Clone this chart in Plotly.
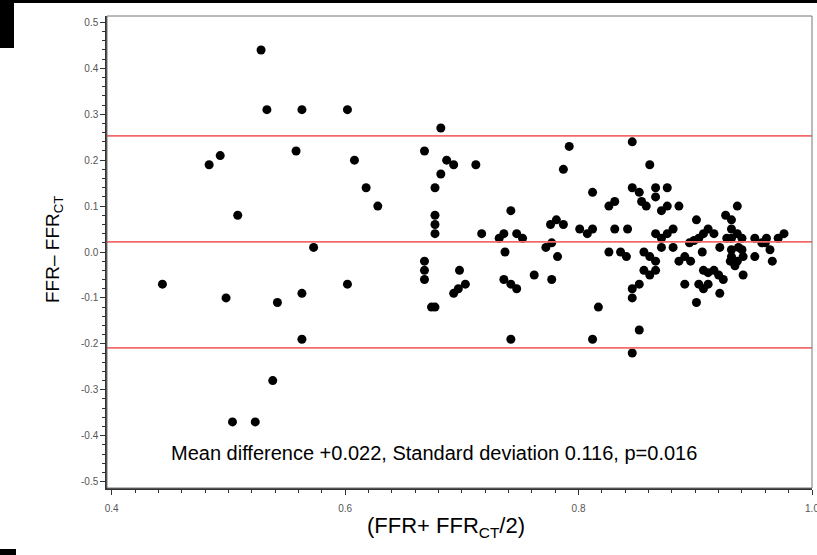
import plotly.graph_objects as go

# Bland-Altman data: mean of FFR and FFR_CT vs. their difference
mean_ffr = [
    0.4435, 0.4835, 0.493, 0.498, 0.5035, 0.508, 0.523, 0.528, 0.533, 0.538,
    0.542, 0.558, 0.563, 0.563, 0.563, 0.573, 0.602, 0.602, 0.608, 0.618,
    0.628, 0.668, 0.668, 0.668, 0.668, 0.677, 0.677, 0.677, 0.677, 0.677,
    0.674, 0.682, 0.682, 0.687, 0.693, 0.693, 0.697, 0.698, 0.703, 0.712,
    0.717, 0.732, 0.736, 0.737, 0.736, 0.742, 0.742, 0.742, 0.747, 0.747,
    0.752, 0.762, 0.772, 0.776, 0.777, 0.777, 0.781, 0.782, 0.787, 0.787,
    0.792, 0.801, 0.8075, 0.812, 0.812, 0.812, 0.817, 0.826, 0.826, 0.831,
    0.831, 0.836, 0.841, 0.842, 0.846, 0.846, 0.846, 0.846, 0.846, 0.852,
    0.852, 0.852, 0.854, 0.856, 0.856, 0.858, 0.861, 0.861, 0.861, 0.866,
    0.866, 0.866, 0.866, 0.866, 0.871, 0.871, 0.871, 0.876, 0.876, 0.876,
    0.881, 0.881, 0.886, 0.886, 0.891, 0.891, 0.895, 0.896, 0.899, 0.901,
    0.901, 0.903, 0.903, 0.906, 0.907, 0.907, 0.907, 0.911, 0.911, 0.911,
    0.916, 0.916, 0.920, 0.921, 0.921, 0.924, 0.926, 0.927, 0.930, 0.931,
    0.931, 0.931, 0.931, 0.931, 0.934, 0.936, 0.936, 0.937, 0.936, 0.940,
    0.940, 0.941, 0.941, 0.951, 0.951, 0.957, 0.960, 0.961, 0.964, 0.966,
    0.971, 0.976,
]
diff_ffr = [
    -0.07, 0.19, 0.21, -0.10, -0.37, 0.08, -0.37, 0.44, 0.31, -0.28,
    -0.11, 0.22, 0.31, -0.09, -0.19, 0.01, 0.31, -0.07, 0.20, 0.14,
    0.10, 0.22, -0.02, -0.04, -0.06, 0.14, 0.08, 0.06, 0.04, -0.12,
    -0.12, 0.27, 0.17, 0.20, 0.19, -0.09, -0.08, -0.04, -0.07, 0.19,
    0.04, 0.03, 0.04, 0.00, -0.06, 0.09, -0.07, -0.19, 0.04, -0.08,
    0.03, -0.05, 0.01, 0.06, 0.02, -0.06, 0.07, -0.01, 0.18, 0.06,
    0.23, 0.05, 0.04, 0.05, 0.13, -0.19, -0.12, 0.10, 0.00, 0.11,
    0.05, 0.00, -0.01, 0.05, 0.24, 0.14, -0.08, -0.10, -0.22, 0.13,
    -0.07, -0.17, 0.11, 0.00, -0.04, 0.10, 0.19, -0.01, -0.05, 0.14,
    0.12, 0.04, -0.02, -0.04, 0.09, 0.03, 0.01, 0.14, 0.10, 0.04,
    0.05, 0.01, 0.10, -0.02, -0.01, -0.07, 0.02, -0.02, 0.025, 0.07,
    -0.11, 0.03, -0.07, 0.00, 0.04, -0.04, -0.08, 0.05, -0.045, -0.07,
    0.04, -0.04, -0.05, 0.01, -0.09, -0.06, 0.08, 0.03, -0.02, 0.07,
    0.05, 0.03, 0.005, -0.01, -0.03, 0.10, 0.04, 0.01, -0.02, 0.03,
    0.005, -0.01, -0.05, 0.03, -0.01, 0.02, 0.02, 0.03, 0.005, -0.02,
    0.03, 0.04,
]

mean_diff = 0.022
upper_loa = 0.253
lower_loa = -0.209

x_ticks = [0.4, 0.6, 0.8, 1.0]
x_tick_text = ["0.4", "0.6", "0.8", "1.0"]
y_ticks = [0.5, 0.4, 0.3, 0.2, 0.1, 0.0, -0.1, -0.2, -0.3, -0.4, -0.5]
y_tick_text = ["0.5", "0.4", "0.3", "0.2", "0.1", "0.0", "-0.1", "-0.2", "-0.3", "-0.4", "-0.5"]

stats_text = "Mean difference +0.022, Standard deviation 0.116, p=0.016"
x_title = "(FFR+ FFR<sub>CT</sub>/2)"
y_title = "FFR\u2013 FFR<sub>CT</sub>"

fig = go.Figure()

# mean difference and limits of agreement
for level in [upper_loa, mean_diff, lower_loa]:
    fig.add_shape(type="line", xref="paper", yref="y", x0=0, x1=1,
                  y0=level, y1=level, line=dict(color="#f26b6b", width=1.8),
                  layer="above")

fig.add_trace(go.Scatter(
    x=mean_ffr, y=diff_ffr, mode="markers",
    marker=dict(color="black", size=9, line=dict(width=0)),
    showlegend=False, cliponaxis=False,
))

tick_font = dict(family="Liberation Sans, Arial, sans-serif", size=10, color="#555555")

fig.update_xaxes(
    range=[0.396, 1.0], tickvals=x_ticks, ticktext=x_tick_text,
    automargin=False,
    showgrid=False, zeroline=False, showline=True, linecolor="#333333", linewidth=1.5,
    ticks="outside", ticklen=5, tickcolor="#333333", tickwidth=1.2,
    ticklabelstandoff=5, ticklabeloverflow="allow", tickfont=tick_font,
    minor=dict(tickmode="linear", tick0=0.4, dtick=0.02, ticks="outside",
               ticklen=3, tickcolor="#333333", tickwidth=1),
)
fig.update_yaxes(
    range=[-0.514, 0.514], tickvals=y_ticks, ticktext=y_tick_text,
    automargin=False,
    showgrid=False, zeroline=False, showline=True, linecolor="#333333", linewidth=1.5,
    ticks="outside", ticklen=5, tickcolor="#333333", tickwidth=1.2,
    tickfont=tick_font,
    minor=dict(tickmode="linear", tick0=0.0, dtick=0.02, ticks="outside",
               ticklen=3, tickcolor="#333333", tickwidth=1),
)

# thin outer frame on top/right
fig.add_shape(type="rect", xref="paper", yref="paper", x0=0, x1=1, y0=0, y1=1,
              line=dict(color="#777777", width=1), layer="above")

L, R, T, B = 107, 5, 16, 67
W, H = 817, 555
pw, ph = W - L - R, H - T - B


def px(xp):
    return (xp - L) / pw


def py(yp):
    return (H - B - yp) / ph


# black edge artefacts around the figure
fig.add_shape(type="rect", xref="paper", yref="paper", x0=px(0), x1=px(817),
              y0=py(3), y1=py(-2), fillcolor="black", line=dict(width=0))
fig.add_shape(type="rect", xref="paper", yref="paper", x0=px(0), x1=px(14),
              y0=py(48), y1=py(-2), fillcolor="black", line=dict(width=0))
fig.add_shape(type="rect", xref="paper", yref="paper", x0=px(0), x1=px(16),
              y0=py(557), y1=py(549), fillcolor="black", line=dict(width=0))

fig.add_annotation(text=stats_text, xref="paper", yref="paper",
                   x=px(434), y=py(466), showarrow=False,
                   font=dict(family="Liberation Sans, Arial, sans-serif", size=20, color="black"))
fig.add_annotation(text=x_title, xref="paper", yref="paper",
                   x=px(446), y=py(543), showarrow=False,
                   font=dict(family="Liberation Sans, Arial, sans-serif", size=22, color="black"))
fig.add_annotation(text=y_title, xref="paper", yref="paper",
                   x=px(40), y=py(250), showarrow=False, textangle=-90,
                   font=dict(family="Liberation Sans, Arial, sans-serif", size=19, color="black"))

fig.update_layout(
    width=W, height=H,
    margin=dict(l=L, r=R, t=T, b=B, pad=0, autoexpand=False),
    paper_bgcolor="white", plot_bgcolor="white",
)

fig.write_html("out.html")
